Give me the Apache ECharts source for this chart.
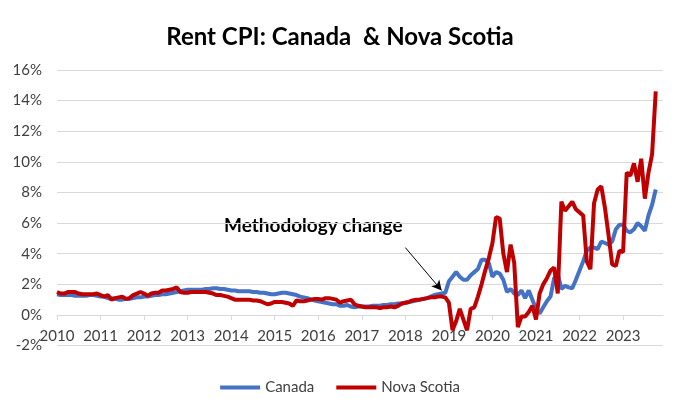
<!DOCTYPE html>
<html><head><meta charset="utf-8">
<script src="https://cdn.jsdelivr.net/npm/echarts@6/dist/echarts.min.js"></script>
<style>html,body{margin:0;padding:0;background:#fff}#c{width:680px;height:409px}</style>
</head><body><div id="c"></div>
<script>
const years = ['2010','2011','2012','2013','2014','2015','2016','2017','2018','2019','2020','2021','2022','2023'];
const months = ['01','02','03','04','05','06','07','08','09','10','11','12'];
const categories = [];
years.forEach(y => months.forEach(m => categories.push(y + '-' + m)));

const yTickValues = [-2, 0, 2, 4, 6, 8, 10, 12, 14, 16];

const canada = [
  1.35,1.3,1.3,1.3,1.3,1.25,1.25,1.25,1.25,1.3,1.3,1.25,
  1.2,1.2,1.1,1.1,1.05,1.0,1.0,1.05,1.05,1.1,1.15,1.15,
  1.2,1.2,1.25,1.3,1.3,1.35,1.35,1.4,1.45,1.5,1.55,1.6,
  1.65,1.65,1.65,1.65,1.65,1.7,1.7,1.75,1.75,1.7,1.7,1.65,
  1.6,1.6,1.55,1.55,1.55,1.55,1.5,1.5,1.45,1.45,1.4,1.35,
  1.35,1.4,1.45,1.45,1.4,1.35,1.3,1.2,1.15,1.1,1.0,0.95,
  0.9,0.85,0.8,0.75,0.7,0.7,0.6,0.6,0.65,0.55,0.5,0.55,
  0.55,0.55,0.55,0.6,0.6,0.6,0.65,0.65,0.7,0.7,0.75,0.75,
  0.8,0.85,0.9,0.95,1.0,1.05,1.1,1.2,1.3,1.35,1.4,1.45,
  2.2,2.5,2.8,2.5,2.3,2.3,2.6,2.8,3.0,3.6,3.6,3.4,
  2.5,2.8,2.7,2.3,1.5,1.7,1.4,1.3,1.6,1.1,1.6,1.0,
  0.4,0.1,0.5,0.9,1.2,2.4,2.7,1.7,1.9,1.8,1.75,2.3,
  2.9,3.5,4.2,4.4,4.4,4.3,4.8,4.7,4.6,4.8,5.6,5.9,
  5.9,5.5,5.4,5.6,6.0,5.8,5.5,6.5,7.2,8.2
];
const novaScotia = [
  1.5,1.4,1.4,1.5,1.5,1.5,1.4,1.35,1.35,1.35,1.35,1.4,
  1.3,1.2,1.3,1.0,1.1,1.15,1.2,1.05,1.1,1.3,1.4,1.5,
  1.4,1.25,1.4,1.45,1.45,1.6,1.6,1.65,1.7,1.8,1.5,1.45,
  1.45,1.5,1.5,1.5,1.5,1.5,1.45,1.4,1.3,1.3,1.25,1.2,
  1.1,1.0,1.0,1.0,1.0,1.0,0.95,0.95,0.9,0.8,0.7,0.75,
  0.85,0.85,0.85,0.8,0.75,0.6,0.95,0.9,0.9,0.95,1.0,1.05,
  1.05,1.0,1.1,1.1,1.05,1.0,0.8,0.9,0.95,1.0,0.7,0.6,
  0.55,0.5,0.5,0.5,0.5,0.45,0.5,0.5,0.55,0.5,0.6,0.75,
  0.8,0.85,0.95,1.0,1.0,1.05,1.1,1.15,1.15,1.2,1.2,1.15,
  0.8,-1.0,-0.4,0.4,-0.3,-1.0,0.4,0.5,1.2,2.0,2.9,3.7,
  4.7,6.4,6.3,4.0,2.8,4.6,3.4,-0.8,-0.1,-0.1,0.2,0.6,
  -0.3,1.4,2.0,2.4,2.9,3.1,1.4,7.4,6.8,7.1,7.4,6.9,
  6.7,6.5,3.5,3.0,7.3,8.2,8.4,7.0,5.2,3.3,3.2,4.2,
  4.1,9.3,9.1,9.9,8.7,10.2,7.6,9.3,10.5,14.6
];

const font = 'Lato, "Liberation Sans", sans-serif';
const chart = echarts.init(document.getElementById('c'), null, {renderer: 'canvas'});
const yearTick = (idx) => idx % 12 === 0;
const gridTop = 70, gridBottom = 63.4;
const plotH = 409 - gridTop - gridBottom;
const zeroOffset = -plotH * (0 - yTickValues[0]) / (yTickValues[yTickValues.length - 1] - yTickValues[0]);

chart.setOption({
  animation: false,
  backgroundColor: '#ffffff',
  title: {
    text: 'Rent CPI: Canada  & Nova Scotia',
    left: 'center', top: 20,
    textStyle: {fontFamily: font, fontSize: 24, fontWeight: 'bold', color: '#000000'}
  },
  legend: {
    data: ['Canada', 'Nova Scotia'],
    top: 375, left: 'center',
    icon: 'rect', itemWidth: 40, itemHeight: 4, itemGap: 22,
    textStyle: {fontFamily: font, fontSize: 15, color: '#404040'}
  },
  grid: {left: 57, right: 17, top: gridTop, bottom: gridBottom, containLabel: false},
  xAxis: {
    type: 'category', data: categories, boundaryGap: false,
    offset: zeroOffset,
    axisLine: {onZero: false, lineStyle: {color: '#D9D9D9', width: 1}},
    axisTick: {show: true, interval: yearTick, length: 5, lineStyle: {color: '#D9D9D9'}},
    axisLabel: {interval: yearTick, margin: 14, fontFamily: font, fontSize: 15, color: '#404040',
      formatter: (v) => years[years.indexOf(v.slice(0, 4))]},
    splitLine: {show: false}
  },
  yAxis: {
    type: 'value', min: yTickValues[0], max: yTickValues[yTickValues.length - 1], interval: 2,
    axisLine: {show: false}, axisTick: {show: false},
    axisLabel: {margin: 15, fontFamily: font, fontSize: 15, color: '#404040', formatter: (v) => v + '%'},
    splitLine: {lineStyle: {color: '#D9D9D9', width: 1}}
  },
  graphic: [{
    type: 'text', left: 224, top: 216,
    style: {text: 'Methodology change', font: 'bold 19px ' + font, fill: '#000000'}
  }],
  series: [
    {
      name: 'Canada', type: 'line', data: canada, symbol: 'none',
      lineStyle: {color: '#4472C4', width: 4}, itemStyle: {color: '#4472C4'}
    },
    {
      name: 'Nova Scotia', type: 'line', data: novaScotia, symbol: 'none',
      lineStyle: {color: '#C00000', width: 4}, itemStyle: {color: '#C00000'},
      markLine: {
        silent: true, symbol: ['none', 'arrow'], symbolSize: [8, 10],
        lineStyle: {color: '#000000', width: 1, type: 'solid'},
        label: {show: false},
        data: [[{coord: [96, 4.4]}, {coord: [106, 1.6]}]]
      }
    }
  ]
});
</script>
</body></html>
